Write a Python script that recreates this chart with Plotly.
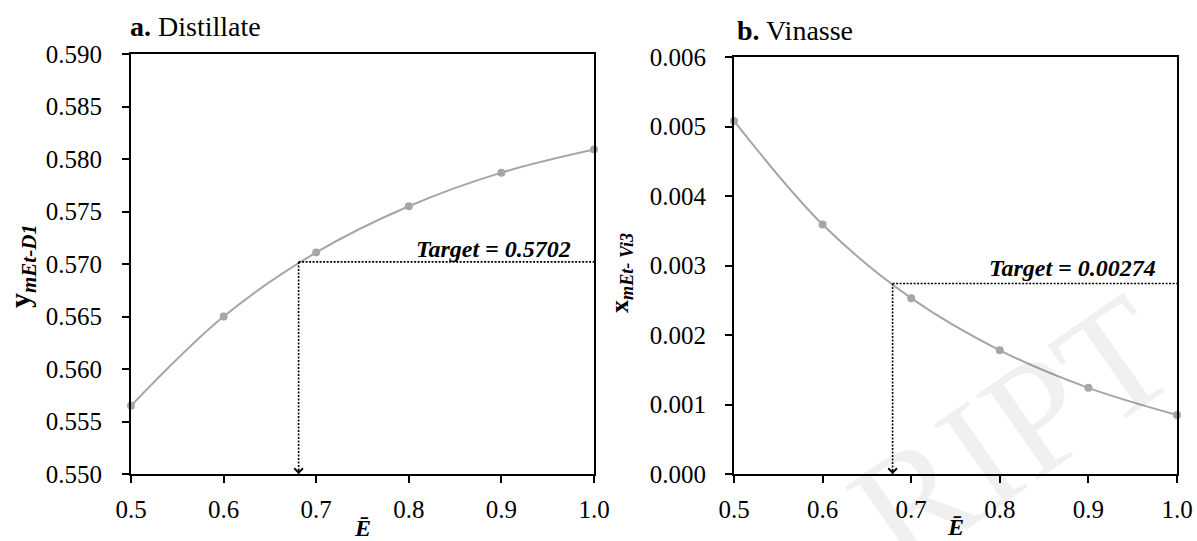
import plotly.graph_objects as go

# ---- data ----
E_bar = [0.5, 0.6, 0.7, 0.8, 0.9, 1.0]
y_distillate = [0.5565, 0.5650, 0.5711, 0.5755, 0.5787, 0.5809]
x_vinasse = [0.00508, 0.00359, 0.00253, 0.00178, 0.00124, 0.00085]
target_distillate = 0.5702
target_vinasse = 0.00274
E_at_target_a = 0.681
E_at_target_b = 0.679
panel_titles = ["<b>a.</b> Distillate", "<b>b.</b> Vinasse"]
target_labels = ["<b><i>Target = 0.5702</i></b>", "<b><i>Target = 0.00274</i></b>"]

W, H = 1197, 541
FONT = "Liberation Serif"
GREY = "#a6a6a6"

def px(x):
    return x / W

def py(y):
    return 1 - y / H

fig = go.Figure()

# curves
fig.add_trace(go.Scatter(x=E_bar, y=y_distillate, mode="lines+markers",
                         line=dict(color=GREY, width=2, shape="spline", smoothing=1),
                         marker=dict(color=GREY, size=8), cliponaxis=False,
                         xaxis="x", yaxis="y", showlegend=False))
fig.add_trace(go.Scatter(x=E_bar, y=x_vinasse, mode="lines+markers",
                         line=dict(color=GREY, width=2, shape="spline", smoothing=1),
                         marker=dict(color=GREY, size=8), cliponaxis=False,
                         xaxis="x2", yaxis="y2", showlegend=False))

ya_min, ya_max = 0.550, 0.590
yb_min, yb_max = 0.000, 0.006
DOT = "2px,1.5px"

# target lines
for xa, ya, Et, tgt, ymin in [("x", "y", E_at_target_a, target_distillate, ya_min),
                              ("x2", "y2", E_at_target_b, target_vinasse, yb_min)]:
    fig.add_trace(go.Scatter(x=[Et, E_bar[-1]], y=[tgt, tgt], mode="lines",
                             line=dict(color="black", width=1.6, dash=DOT),
                             xaxis=xa, yaxis=ya, showlegend=False, hoverinfo="skip"))
    fig.add_trace(go.Scatter(x=[Et, Et], y=[tgt, ymin], mode="lines",
                             line=dict(color="black", width=1.6, dash=DOT),
                             xaxis=xa, yaxis=ya, showlegend=False, hoverinfo="skip"))
    fig.add_annotation(x=Et, y=ymin, xref=xa, yref=ya, ax=0, ay=-6, text="",
                       showarrow=True, arrowhead=4, arrowsize=1.2, arrowwidth=1.4,
                       arrowcolor="black", standoff=0)

# domains (pixels -> paper)
a_x0, a_x1 = 131, 594
b_x0, b_x1 = 734, 1177
a_top, b_top, bottom = 54, 57, 474

axis_common = dict(showline=True, linecolor="black", linewidth=2, mirror=True,
                   ticks="outside", ticklen=7, tickwidth=2, tickcolor="black",
                   showgrid=False, zeroline=False, automargin=False,
                   tickfont=dict(family=FONT, size=25, color="black"))

fig.update_layout(
    width=W, height=H,
    margin=dict(l=0, r=0, t=0, b=0),
    paper_bgcolor="white", plot_bgcolor="white",
    template="none",
    xaxis=dict(domain=[px(a_x0), px(a_x1)], range=[0.5, 1.0], dtick=0.1, tick0=0.5,
               tickformat=".1f", anchor="y", ticklabelstandoff=5, **axis_common),
    yaxis=dict(domain=[py(bottom), py(a_top)], range=[ya_min, ya_max], dtick=0.005,
               tick0=0.55, tickformat=".3f", anchor="x", ticklabelstandoff=15, **axis_common),
    xaxis2=dict(domain=[px(b_x0), px(b_x1)], range=[0.5, 1.0], dtick=0.1, tick0=0.5,
                tickformat=".1f", anchor="y2", ticklabelstandoff=5, **axis_common),
    yaxis2=dict(domain=[py(bottom), py(b_top)], range=[yb_min, yb_max], dtick=0.001,
                tick0=0, tickformat=".3f", anchor="x2", ticklabelstandoff=14, **axis_common),
)

# panel titles
fig.add_annotation(x=px(128), y=py(27), xref="paper", yref="paper", text=panel_titles[0],
                   showarrow=False, xanchor="left", yanchor="middle",
                   font=dict(family=FONT, size=28, color="black"))
fig.add_annotation(x=px(735), y=py(30), xref="paper", yref="paper", text=panel_titles[1],
                   showarrow=False, xanchor="left", yanchor="middle",
                   font=dict(family=FONT, size=28, color="black"))

# target labels
fig.add_annotation(x=px(573), y=py(249), xref="paper", yref="paper", text=target_labels[0],
                   showarrow=False, xanchor="right", yanchor="middle",
                   font=dict(family=FONT, size=24, color="black"))
fig.add_annotation(x=px(1158), y=py(268), xref="paper", yref="paper", text=target_labels[1],
                   showarrow=False, xanchor="right", yanchor="middle",
                   font=dict(family=FONT, size=24, color="black"))

# axis titles
fig.add_annotation(x=px(22), y=py(266), xref="paper", yref="paper",
                   text="<b>y</b><sub><b><i>mEt-D1</i></b></sub>", textangle=-90,
                   showarrow=False, xanchor="center", yanchor="middle",
                   font=dict(family=FONT, size=30, color="black"))
fig.add_annotation(x=px(621), y=py(273), xref="paper", yref="paper",
                   text="<b>x</b><sub><b><i>mEt- Vi3</i></b></sub>", textangle=-90,
                   showarrow=False, xanchor="center", yanchor="middle",
                   font=dict(family=FONT, size=26, color="black"))
fig.add_annotation(x=px(362), y=py(528), xref="paper", yref="paper",
                   text="<b><i>Ē</i></b>", showarrow=False, xanchor="center", yanchor="middle",
                   font=dict(family=FONT, size=24, color="black"))
fig.add_annotation(x=px(955), y=py(527), xref="paper", yref="paper",
                   text="<b><i>Ē</i></b>", showarrow=False, xanchor="center", yanchor="middle",
                   font=dict(family=FONT, size=24, color="black"))

# faint watermark
fig.add_annotation(x=px(1012), y=py(432), xref="paper", yref="paper", text="RIPT",
                   textangle=-35, showarrow=False, xanchor="center", yanchor="middle",
                   font=dict(family=FONT, size=160, color="rgba(0,0,0,0.06)"))

fig.write_html("out.html", config={"displayModeBar": False},
               post_script="document.body.style.margin='0';document.body.style.overflow='hidden';")
